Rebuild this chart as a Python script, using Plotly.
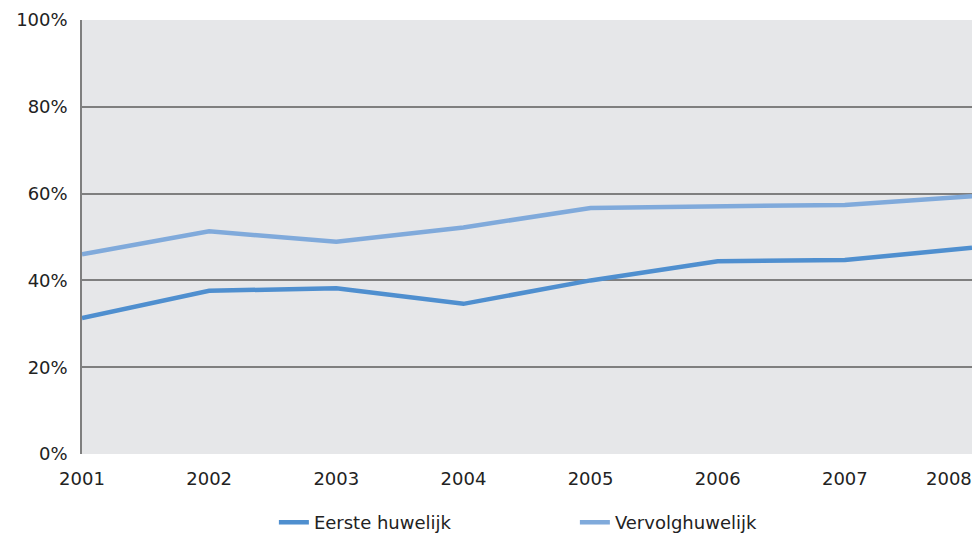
import plotly.graph_objects as go

years = [2001, 2002, 2003, 2004, 2005, 2006, 2007, 2008]
eerste = [31.3, 37.6, 38.2, 34.6, 40.0, 44.4, 44.7, 47.5]
vervolg = [46.0, 51.3, 48.9, 52.2, 56.7, 57.0, 57.4, 59.4]
y_ticks = [0, 20, 40, 60, 80, 100]

FONT = "DejaVu Sans"
TXT = "#222222"

fig = go.Figure()
fig.add_trace(go.Scatter(x=years, y=eerste, mode="lines", name="Eerste huwelijk",
                         line=dict(color="#4f8fcf", width=4.5)))
fig.add_trace(go.Scatter(x=years, y=vervolg, mode="lines", name="Vervolghuwelijk",
                         line=dict(color="#80aadb", width=4.5)))

# last x label sits inside the plot's right edge, as in the reference
xt = [str(y) for y in years]
xt[-1] = ""
fig.add_annotation(x=years[-1], y=0, xref="x", yref="y", text=str(years[-1]),
                   showarrow=False, xanchor="right", yanchor="top", yshift=-12,
                   xshift=2, font=dict(family=FONT, size=18, color=TXT))

fig.update_layout(
    width=976, height=538,
    margin=dict(l=82, r=4, t=20, b=84, autoexpand=False),
    paper_bgcolor="white",
    plot_bgcolor="#e6e7e9",
    font=dict(family=FONT, size=18, color=TXT),
    showlegend=True,
    legend=dict(orientation="h", x=0.2156, xanchor="left", y=-0.158, yanchor="middle",
                entrywidth=256, entrywidthmode="pixels", font=dict(size=18),
                bgcolor="rgba(0,0,0,0)"),
    xaxis=dict(range=[2001, 2008], tickmode="array", tickvals=years,
               ticktext=xt, showgrid=False, zeroline=False, automargin=False,
               showline=False, ticks="outside", ticklen=8, tickcolor="rgba(0,0,0,0)",
               fixedrange=True),
    yaxis=dict(range=[0, 100], tickmode="array", tickvals=y_ticks,
               ticktext=[f"{v}%" for v in y_ticks], showgrid=True, automargin=False,
               gridcolor="#7f7f7f", gridwidth=1.5, zeroline=False,
               showline=True, linecolor="#7f7f7f", linewidth=1.5,
               ticks="outside", ticklen=9, tickcolor="rgba(0,0,0,0)",
               fixedrange=True),
)

fig.write_html("out.html", config={"displayModeBar": False},
               post_script="document.body.style.margin='0';")
